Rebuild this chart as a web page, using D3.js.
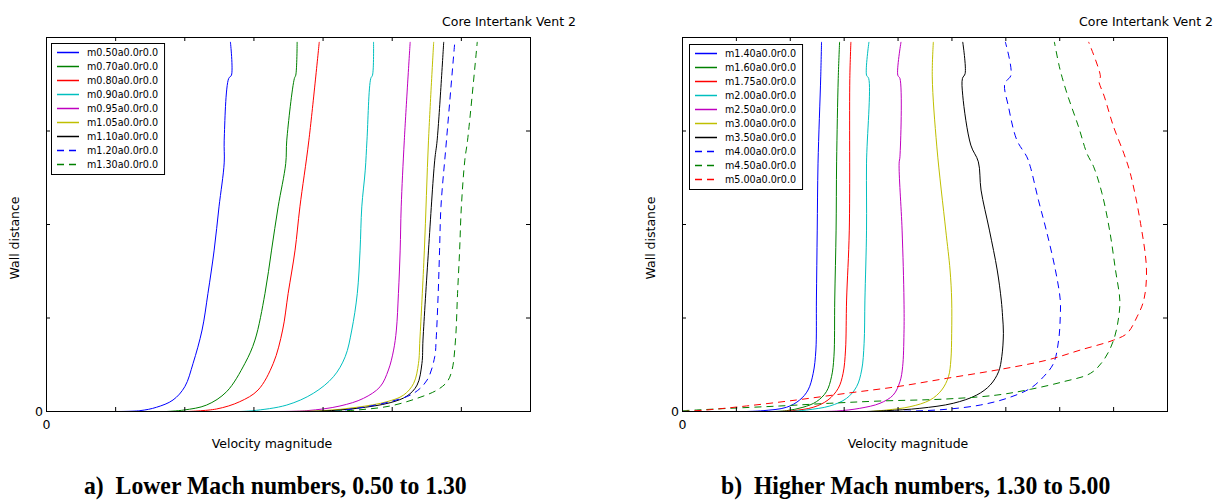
<!DOCTYPE html>
<html><head><meta charset="utf-8">
<script src="https://cdn.jsdelivr.net/npm/d3@7"></script>
<style>body{margin:0;background:#fff} svg{display:block}</style>
</head><body><svg id="c" width="1220" height="500"></svg>
<script>
// ---------- texts ----------
const chartTitle = "Core Intertank Vent 2";
const xLabel = "Velocity magnitude";
const yLabel = "Wall distance";
const lowerCaption = "a)\u2002Lower Mach numbers, 0.50 to 1.30";
const higherCaption = "b)\u2002Higher Mach numbers, 1.30 to 5.00";

// ---------- ticks ----------
const lowerXTicks = [0, 200, 400, 600, 800, 1000, 1200, 1400];
const higherXTicks = [0, 200, 400, 600, 800, 1000, 1200, 1400, 1600, 1800];
const yTicks = [0, 10, 20, 30, 40];

// ---------- lower Mach series: [velocity, wall distance] ----------
const lowerNames = ["m0.50a0.0r0.0","m0.70a0.0r0.0","m0.80a0.0r0.0","m0.90a0.0r0.0","m0.95a0.0r0.0","m1.05a0.0r0.0","m1.10a0.0r0.0","m1.20a0.0r0.0","m1.30a0.0r0.0"];
const m050 = [[200,0],[270,0.09],[318,0.45],[366,1.23],[400,2.65],[424,5.15],[450,8.71],[467,12.63],[485,17.26],[499,21.89],[514,26.59],[514,29.02],[527,35.62],[535,35.97],[532,39.53]];
const m070 = [[347,0],[398,0.16],[463,0.69],[521,2.12],[574,5.15],[603,7.64],[632,12.63],[651,17.26],[670,21.89],[692,26.53],[695,29.02],[717,35.62],[721,35.97],[725,39.53]];
const m080 = [[405,0],[492,0.27],[559,1.05],[612,2.30],[656,5.15],[683,8.71],[699,12.63],[719,17.26],[733,21.89],[759,29.02],[789,39.53]];
const m090 = [[559,0],[598,0.09],[695,0.69],[772,1.95],[830,3.72],[864,5.86],[883,8.71],[899,12.63],[907,17.26],[912,21.89],[922,25.81],[927,29.02],[938,35.62],[943,35.97],[946,39.53]];
const m095 = [[655,0],[753,0.09],[849,0.59],[917,1.41],[965,2.65],[989,4.44],[1004,6.57],[1012,8.71],[1018,12.63],[1023,17.26],[1026,21.89],[1035,29.02],[1052,39.53]];
const m105 = [[704,0],[801,0.09],[898,0.45],[985,1.05],[1033,1.76],[1062,3.01],[1076,5.15],[1080,7.64],[1093,17.26],[1105,29.02],[1120,39.53]];
const m110 = [[733,0],[801,0.05],[898,0.34],[994,0.94],[1043,1.66],[1072,2.83],[1086,5.15],[1089,7.64],[1105,17.26],[1123,26.88],[1130,29.02],[1149,39.53]];
const m120 = [[830,0],[898,0.34],[994,1.05],[1062,1.95],[1101,3.37],[1123,5.86],[1127,7.64],[1133,12.63],[1137,17.26],[1141,21.89],[1157,29.02],[1181,39.53]];
const m130 = [[800,0],[898,0.16],[994,0.59],[1072,1.41],[1130,2.30],[1159,3.19],[1173,4.44],[1183,7.64],[1189,12.63],[1195,17.26],[1200,21.89],[1210,26.88],[1218,29.02],[1246,39.53]];

// ---------- higher Mach series ----------
const higherNames = ["m1.40a0.0r0.0","m1.60a0.0r0.0","m1.75a0.0r0.0","m2.00a0.0r0.0","m2.50a0.0r0.0","m3.00a0.0r0.0","m3.50a0.0r0.0","m4.00a0.0r0.0","m4.50a0.0r0.0","m5.00a0.0r0.0"];
const m140 = [[237,0],[299,0.09],[386,0.45],[435,1.23],[466,2.30],[485,4.08],[495,6.57],[497,11.92],[500,19.40],[503,26.56],[513,35.79],[516,39.53]];
const m160 = [[335,0],[386,0.09],[447,0.45],[497,1.05],[534,2.12],[553,3.72],[562,5.86],[565,11.92],[570,19.40],[572,26.70],[578,35.62],[583,39.53]];
const m175 = [[361,0],[410,0.09],[485,0.45],[540,1.23],[578,2.48],[596,4.08],[605,6.57],[609,11.92],[619,19.40],[621,35.62],[625,39.53]];
const m200 = [[398,0],[460,0.16],[547,0.59],[609,1.41],[646,2.65],[665,4.44],[674,7.29],[677,11.92],[683,19.40],[683,26.56],[691,35.62],[683,35.97],[692,39.53]];
const m250 = [[510,0],[572,0.05],[658,0.34],[733,0.88],[782,1.76],[807,3.19],[817,4.79],[822,8.36],[822,11.92],[815,19.40],[804,26.56],[807,27.24],[807,35.62],[799,35.97],[811,39.53]];
const m300 = [[696,0],[758,0.16],[844,0.51],[919,1.23],[962,2.30],[987,3.72],[996,5.50],[999,8.36],[999,11.92],[993,15.13],[977,19.40],[944,28.30],[927,35.79],[931,39.53]];
const m350 = [[683,0],[758,0.09],[881,0.34],[1005,0.88],[1092,1.76],[1142,2.83],[1173,4.25],[1185,5.86],[1191,8.36],[1188,10.13],[1183,11.92],[1168,15.13],[1139,19.40],[1108,23.68],[1098,26.70],[1070,28.49],[1040,33.83],[1039,35.62],[1049,36.15],[1040,39.53]];
const m400 = [[733,0],[857,0.05],[981,0.24],[1105,0.69],[1204,1.41],[1291,2.48],[1340,3.72],[1377,5.15],[1396,7.64],[1402,10.13],[1402,11.92],[1384,15.13],[1350,19.40],[1321,22.61],[1291,26.17],[1278,27.24],[1241,29.02],[1210,32.58],[1196,35.08],[1219,35.97],[1198,39.53]];
const m450 = [[0,0.09],[51,0.16],[175,0.34],[361,0.59],[547,0.88],[733,1.12],[981,1.34],[1167,1.76],[1291,2.37],[1414,3.19],[1514,4.08],[1563,5.50],[1600,7.64],[1619,10.13],[1623,11.92],[1607,15.13],[1585,19.40],[1557,23.32],[1526,26.17],[1501,27.60],[1470,30.44],[1427,34.01],[1405,36.15],[1396,37.22],[1380,39.53]];
const m500 = [[0,0],[88,0.16],[237,0.59],[423,1.23],[609,1.95],[795,2.65],[981,3.55],[1167,4.44],[1353,5.50],[1476,6.57],[1600,7.64],[1650,8.36],[1687,10.13],[1712,11.92],[1722,15.13],[1700,20.12],[1662,25.46],[1638,27.60],[1600,30.44],[1566,33.65],[1545,35.43],[1551,35.79],[1507,39.53]];

// ---------- styles ----------
const lowerColors = ["#0000ff","#008000","#ff0000","#00bfbf","#bf00bf","#bfbf00","#000000","#0000ff","#008000"];
const lowerDashed = [false,false,false,false,false,false,false,true,true];
const higherColors = ["#0000ff","#008000","#ff0000","#00bfbf","#bf00bf","#bfbf00","#000000","#0000ff","#008000","#ff0000"];
const higherDashed = [false,false,false,false,false,false,false,true,true,true];

const FONT = "'DejaVu Sans', 'Liberation Sans', sans-serif";
const svg = d3.select("#c");

function panel(cfg) {
  const top = 37, bottom = 411;
  const x = d3.scaleLinear().domain([cfg.xTicks[0], cfg.xTicks[cfg.xTicks.length-1]]).range([cfg.left, cfg.right]);
  const y = d3.scaleLinear().domain([yTicks[0], yTicks[yTicks.length-1]]).range([bottom, top]);
  const g = svg.append("g");
  const line = d3.line().x(d => x(d[0])).y(d => y(d[1])).curve(d3.curveCatmullRom.alpha(0.5));
  const items = cfg.series.map((s, i) => ({s, color: cfg.colors[i], dashed: cfg.dashed[i], name: cfg.names[i]}));
  g.append("g").attr("transform", "translate(0.5,0.5)")
    .selectAll("path").data(items).join("path")
    .attr("d", d => line(d.s)).attr("fill", "none")
    .attr("stroke", d => d.color).attr("stroke-width", 1)
    .attr("stroke-dasharray", d => d.dashed ? "7,5" : null);
  // frame
  g.append("rect").attr("x", cfg.left + 0.5).attr("y", top + 0.5)
    .attr("width", cfg.right - cfg.left).attr("height", bottom - top)
    .attr("fill", "none").attr("stroke", "#000").attr("stroke-width", 1);
  const fmt = d => d === 0 ? "0" : "";
  const styleAxis = sel => {
    sel.select(".domain").remove();
    sel.selectAll("text").attr("font-family", FONT).attr("font-size", 12.5).attr("fill", "#000");
    sel.selectAll(".tick line").attr("stroke", "#000");
  };
  g.append("g").attr("transform", `translate(0,${bottom})`)
    .call(d3.axisBottom(x).tickValues(cfg.xTicks).tickSizeInner(-4).tickSizeOuter(0).tickPadding(9).tickFormat(fmt)).call(styleAxis);
  g.append("g").attr("transform", `translate(0,${top})`)
    .call(d3.axisTop(x).tickValues(cfg.xTicks).tickSizeInner(-4).tickSizeOuter(0).tickFormat("")).call(styleAxis);
  g.append("g").attr("transform", `translate(${cfg.left},0)`)
    .call(d3.axisLeft(y).tickValues(yTicks).tickSizeInner(-4).tickSizeOuter(0).tickPadding(3).tickFormat(fmt)).call(styleAxis);
  g.append("g").attr("transform", `translate(${cfg.right},0)`)
    .call(d3.axisRight(y).tickValues(yTicks).tickSizeInner(-4).tickSizeOuter(0).tickFormat("")).call(styleAxis);

  // labels
  g.append("text").attr("x", cfg.titleX).attr("y", 26).text(chartTitle)
    .attr("font-family", FONT).attr("font-size", 12.5);
  g.append("text").attr("x", cfg.xLabelX).attr("y", 447.5).attr("text-anchor", "middle").text(xLabel)
    .attr("font-family", FONT).attr("font-size", 12.5);
  g.append("text").attr("transform", `translate(${cfg.yLabelX},238) rotate(-90)`).attr("text-anchor", "middle").text(yLabel)
    .attr("font-family", FONT).attr("font-size", 12.5);
  g.append("text").attr("transform", `translate(${cfg.captionX},494) scale(0.93,1)`).text(cfg.caption)
    .attr("font-family", "'Liberation Serif', 'Times New Roman', serif").attr("font-weight", "bold").attr("font-size", 25.5);

  // legend
  const lx = cfg.left + cfg.legendDx, ly = cfg.legendTop;
  const lg = svg.append("g").attr("transform", `translate(${lx},${ly})`);
  const box = lg.append("rect").attr("x", 0.5).attr("y", 0.5)
    .attr("fill", "#fff").attr("stroke", "#000").attr("stroke-width", 1);
  const rows = lg.selectAll("g.row").data(items).join("g").attr("class", "row")
    .attr("transform", (d, i) => `translate(0,${9 + i * 14})`);
  rows.append("line").attr("x1", 6).attr("x2", 28).attr("y1", 0.5).attr("y2", 0.5)
    .attr("stroke", d => d.color).attr("stroke-width", 1.5)
    .attr("stroke-dasharray", d => d.dashed ? "7,5" : null);
  rows.append("text").attr("x", 36).attr("y", 3.5).text(d => d.name)
    .attr("font-family", FONT).attr("font-size", 9.6).attr("fill", "#000");
  const maxW = d3.max(rows.selectAll("text").nodes(), n => n.getComputedTextLength());
  box.attr("width", 36 + maxW + 6).attr("height", 9 + (items.length - 1) * 14 + 10);
}

panel({left: 46, right: 530, xTicks: lowerXTicks, series: [m050,m070,m080,m090,m095,m105,m110,m120,m130],
  names: lowerNames, colors: lowerColors, dashed: lowerDashed, titleX: 442, xLabelX: 272, yLabelX: 19,
  caption: lowerCaption, captionX: 84, legendDx: 5, legendTop: 43});
panel({left: 682, right: 1167, xTicks: higherXTicks, series: [m140,m160,m175,m200,m250,m300,m350,m400,m450,m500],
  names: higherNames, colors: higherColors, dashed: higherDashed, titleX: 1079, xLabelX: 908, yLabelX: 655,
  caption: higherCaption, captionX: 721, legendDx: 7, legendTop: 44});
</script>
</body></html>
